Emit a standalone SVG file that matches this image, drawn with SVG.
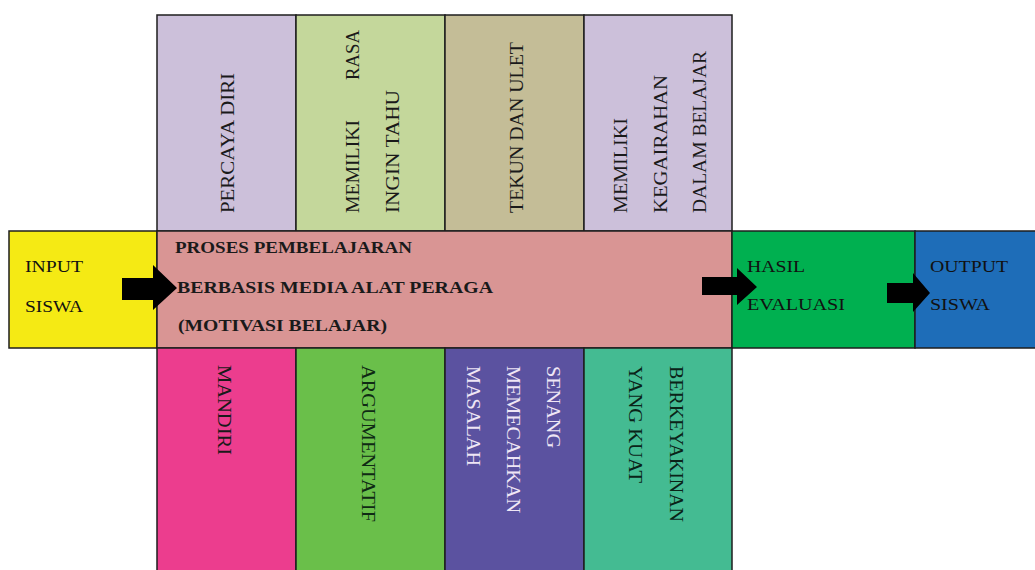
<svg xmlns="http://www.w3.org/2000/svg" width="1035" height="570" viewBox="0 0 1035 570">
<style>
.box{stroke:#1e1e1e;stroke-width:1.5}
.v{font-family:"Liberation Serif","Times New Roman",serif;font-size:18px;fill:#1a1a1a;stroke:currentColor;stroke-width:0}
.m{font-family:"Liberation Serif","Times New Roman",serif;font-size:17px;font-weight:bold;fill:#1a1a1a}
.s{font-family:"Liberation Serif","Times New Roman",serif;font-size:16px;fill:#111}
.arrow{fill:#000}
</style>
<rect width="1035" height="570" fill="#fff"/>
<g id="percaya-diri">
<rect class="box" x="157" y="15" width="139" height="216" fill="#ccc0da"/>
<text class="v" transform="translate(234,213) rotate(-90)" textLength="140" lengthAdjust="spacingAndGlyphs">PERCAYA DIRI</text>
</g>
<g id="rasa-ingin-tahu">
<rect class="box" x="296" y="15" width="149" height="216" fill="#c4d79b"/>
<text class="v" transform="translate(359,213) rotate(-90)" textLength="93" lengthAdjust="spacingAndGlyphs">MEMILIKI</text>
<text class="v" transform="translate(359,80) rotate(-90)" textLength="50" lengthAdjust="spacingAndGlyphs">RASA</text>
<text class="v" transform="translate(399,213) rotate(-90)" textLength="123" lengthAdjust="spacingAndGlyphs">INGIN TAHU</text>
</g>
<g id="tekun-ulet">
<rect class="box" x="445" y="15" width="139" height="216" fill="#c4bd97"/>
<text class="v" transform="translate(523,213) rotate(-90)" textLength="171" lengthAdjust="spacingAndGlyphs">TEKUN DAN ULET</text>
</g>
<g id="kegairahan">
<rect class="box" x="584" y="15" width="148" height="216" fill="#ccc0da"/>
<text class="v" transform="translate(627,213) rotate(-90)" textLength="95" lengthAdjust="spacingAndGlyphs">MEMILIKI</text>
<text class="v" transform="translate(667,213) rotate(-90)" textLength="138" lengthAdjust="spacingAndGlyphs">KEGAIRAHAN</text>
<text class="v" transform="translate(706,213) rotate(-90)" textLength="162" lengthAdjust="spacingAndGlyphs">DALAM BELAJAR</text>
</g>
<g id="input-siswa">
<rect class="box" x="9" y="231" width="148" height="117" fill="#f5ea14"/>
<text class="s" x="25" y="272" textLength="58" lengthAdjust="spacingAndGlyphs">INPUT</text>
<text class="s" x="25" y="312" textLength="58" lengthAdjust="spacingAndGlyphs">SISWA</text>
</g>
<g id="proses">
<rect class="box" x="157" y="231" width="575" height="117" fill="#d99594"/>
<text class="m" x="175" y="253" textLength="237" lengthAdjust="spacingAndGlyphs">PROSES PEMBELAJARAN</text>
<text class="m" x="177" y="293" textLength="316" lengthAdjust="spacingAndGlyphs">BERBASIS MEDIA ALAT PERAGA</text>
<text class="m" x="178" y="331" textLength="209" lengthAdjust="spacingAndGlyphs">(MOTIVASI BELAJAR)</text>
</g>
<g id="hasil-evaluasi">
<rect class="box" x="732" y="231" width="183" height="117" fill="#00b050"/>
<text class="s" x="747" y="272" textLength="58" lengthAdjust="spacingAndGlyphs">HASIL</text>
<text class="s" x="747" y="310" textLength="98" lengthAdjust="spacingAndGlyphs">EVALUASI</text>
</g>
<g id="output-siswa">
<rect class="box" x="915" y="231" width="124" height="117" fill="#1e6db8"/>
<text class="s" x="930" y="272" textLength="78" lengthAdjust="spacingAndGlyphs">OUTPUT</text>
<text class="s" x="930" y="310" textLength="60" lengthAdjust="spacingAndGlyphs">SISWA</text>
</g>
<g id="mandiri">
<rect class="box" x="157" y="348" width="139" height="230" fill="#ec3d8e"/>
<text class="v" transform="translate(218,365) rotate(90)" textLength="90" lengthAdjust="spacingAndGlyphs">MANDIRI</text>
</g>
<g id="argumentatif">
<rect class="box" x="296" y="348" width="149" height="230" fill="#6abf4a"/>
<text class="v" transform="translate(362,365) rotate(90)" textLength="157" lengthAdjust="spacingAndGlyphs" style="fill:#0f2a14">ARGUMENTATIF</text>
</g>
<g id="memecahkan-masalah">
<rect class="box" x="445" y="348" width="139" height="230" fill="#5b52a0"/>
<text class="v" transform="translate(547,366) rotate(90)" textLength="82" lengthAdjust="spacingAndGlyphs" style="fill:#efe6f5">SENANG</text>
<text class="v" transform="translate(507,366) rotate(90)" textLength="147" lengthAdjust="spacingAndGlyphs" style="fill:#efe6f5">MEMECAHKAN</text>
<text class="v" transform="translate(467,366) rotate(90)" textLength="100" lengthAdjust="spacingAndGlyphs" style="fill:#efe6f5">MASALAH</text>
</g>
<g id="berkeyakinan">
<rect class="box" x="584" y="348" width="148" height="230" fill="#44bb92"/>
<text class="v" transform="translate(670,366) rotate(90)" textLength="156" lengthAdjust="spacingAndGlyphs" style="fill:#0a2318">BERKEYAKINAN</text>
<text class="v" transform="translate(629,366) rotate(90)" textLength="117" lengthAdjust="spacingAndGlyphs" style="fill:#0a2318">YANG KUAT</text>
</g>
<g id="connectors">
<path class="arrow" d="M122,278 H153 V265 L177,288 L153,310 V300 H122 Z"/>
<path class="arrow" d="M702,277 H737 V268 L757,287 L737,305 V295 H702 Z"/>
<path class="arrow" d="M887,283 H913 V273 L930,293 L913,312 V303 H887 Z"/>
</g>
</svg>
